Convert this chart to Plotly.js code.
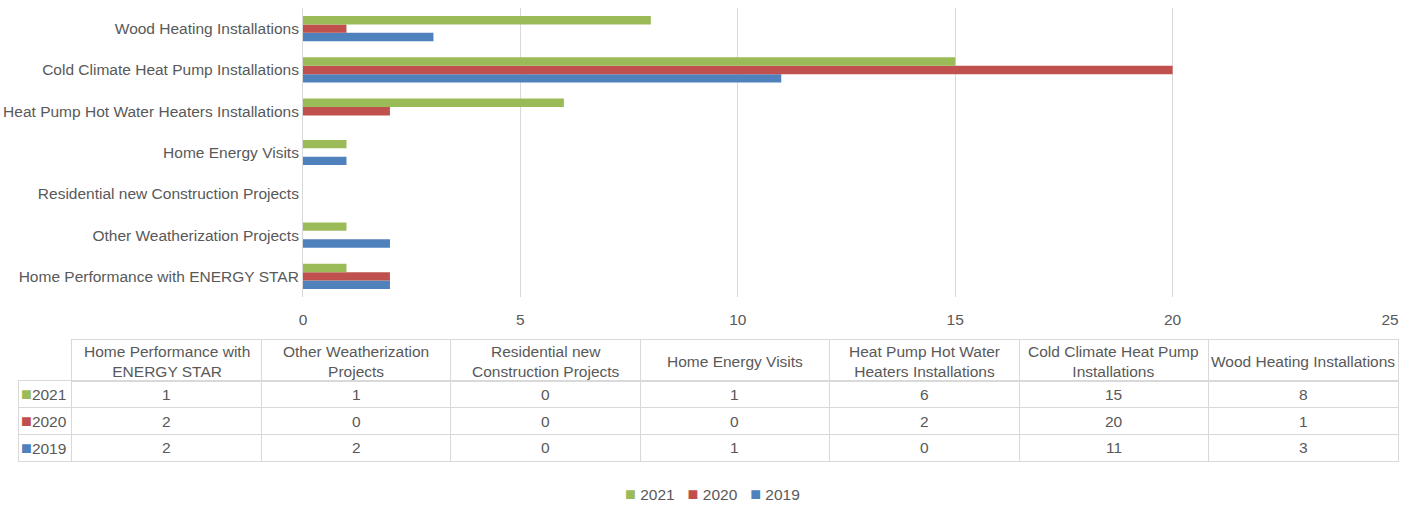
<!DOCTYPE html>
<html>
<head>
<meta charset="utf-8">
<script src="https://cdn.plot.ly/plotly-3.0.1.min.js"></script>
<style>html,body{margin:0;padding:0;background:#fff;}#chart{width:1418px;height:506px;}</style>
</head>
<body>
<div id="chart"></div>
<script>
var categories = ["Home Performance with ENERGY STAR", "Other Weatherization Projects", "Residential new Construction Projects", "Home Energy Visits", "Heat Pump Hot Water Heaters Installations", "Cold Climate Heat Pump Installations", "Wood Heating Installations"];
var tableHeaders = ["Home Performance with<br>ENERGY STAR", "Other Weatherization<br>Projects", "Residential new<br>Construction Projects", "Home Energy Visits", "Heat Pump Hot Water<br>Heaters Installations", "Cold Climate Heat Pump<br>Installations", "Wood Heating Installations"];
var seriesNames = ["2021", "2020", "2019"];
var v2021 = [1, 1, 0, 1, 6, 15, 8];
var v2020 = [2, 0, 0, 0, 2, 20, 1];
var v2019 = [2, 2, 0, 1, 0, 11, 3];
var xTicks = [0, 5, 10, 15, 20, 25];

var colors = {"2021": "#9bbb59", "2020": "#c0504d", "2019": "#4f81bd"};
var seriesValues = {"2021": v2021, "2020": v2020, "2019": v2019};
var FONT = "Liberation Sans, Arial, Helvetica, sans-serif";
var TXT = "#595959";
var GRID = "#d9d9d9";
var FS = 15.5;
var W = 1418, H = 506;
function px(x){return x / W;}
function py(y){return 1 - y / H;}
function swatch(s){ return "<span style='color:" + colors[s] + ";font-size:18px'>■</span>"; }

var traces = [];
["2019", "2020", "2021"].forEach(function(s){
  traces.push({
    type: "bar", orientation: "h", name: s,
    y: categories, x: seriesValues[s],
    marker: {color: colors[s]},
    xaxis: "x", yaxis: "y",
    hoverinfo: "x+name"
  });
});
// invisible anchors for the table subplots
traces.push({type: "scatter", x: [], y: [], xaxis: "x2", yaxis: "y2", showlegend: false, hoverinfo: "skip"});
traces.push({type: "scatter", x: [], y: [], xaxis: "x3", yaxis: "y3", showlegend: false, hoverinfo: "skip"});

var nCols = categories.length;
var firstColW = 53 / 189.5; // label column width relative to a data column
var colBounds = [-firstColW];
for (var c = 0; c <= nCols; c++) colBounds.push(c);
var hdrBounds = [];
for (var c2 = 0; c2 <= nCols; c2++) hdrBounds.push(c2);
var rowBounds = [];
for (var r = 0; r <= seriesNames.length; r++) rowBounds.push(r);

var annotations = [];
// header texts
tableHeaders.forEach(function(h, i){
  annotations.push({
    xref: "x3", yref: "y3", x: i + 0.5, y: 0.5, text: h,
    showarrow: false, align: "center", xanchor: "center", yanchor: "middle",
    yshift: -1,
    font: {family: FONT, size: FS, color: TXT}
  });
});
// body cells
seriesNames.forEach(function(s, ri){
  annotations.push({
    xref: "x2", yref: "y2", x: -firstColW, y: ri + 0.5, xanchor: "left", yanchor: "middle",
    text: swatch(s) + s,
    showarrow: false, xshift: 0,
    font: {family: FONT, size: FS, color: TXT}
  });
  for (var i = 0; i < nCols; i++) {
    annotations.push({
      xref: "x2", yref: "y2", x: i + 0.5, y: ri + 0.5,
      text: String(seriesValues[s][i]),
      showarrow: false, xanchor: "center", yanchor: "middle",
      font: {family: FONT, size: FS, color: TXT}
    });
  }
});
// legend (ordered 2021, 2020, 2019)
annotations.push({
  xref: "paper", yref: "paper", x: px(712), y: py(494), xanchor: "center", yanchor: "middle",
  showarrow: false,
  text: seriesNames.map(function(s){ return swatch(s) + " " + s; }).join("   "),
  font: {family: FONT, size: FS, color: TXT}
});

function tableAxis(domain, range, tickvals) {
  return {
    domain: domain, range: range, tickvals: tickvals,
    showticklabels: false, ticks: "", showgrid: true, gridcolor: GRID, gridwidth: 1,
    zeroline: false, showline: true, mirror: true, linecolor: GRID, linewidth: 1,
    fixedrange: true
  };
}

var layout = {
  width: W, height: H,
  margin: {l: 0, r: 0, t: 0, b: 0},
  paper_bgcolor: "white", plot_bgcolor: "white",
  font: {family: FONT, size: FS, color: TXT},
  barmode: "group",
  bargap: 0.39, bargroupgap: 0,
  showlegend: false,
  xaxis: {
    domain: [px(303), px(1390)],
    range: [0, 25],
    tickvals: xTicks,
    ticktext: xTicks.map(String),
    showgrid: true, gridcolor: GRID, gridwidth: 1,
    zeroline: false, showline: false,
    ticks: "outside", ticklen: 8, tickcolor: "rgba(0,0,0,0)",
    tickfont: {family: FONT, size: FS, color: TXT},
    anchor: "y"
  },
  yaxis: {
    domain: [py(297), py(8)],
    type: "category",
    showgrid: false, zeroline: false,
    showline: true, linecolor: GRID, linewidth: 1,
    ticks: "", ticklabelstandoff: 0,
    tickfont: {family: FONT, size: FS, color: TXT},
    anchor: "x"
  },
  xaxis2: Object.assign(tableAxis([px(19), px(1398)], [-firstColW, nCols], colBounds), {anchor: "y2"}),
  yaxis2: Object.assign(tableAxis([py(461), py(381)], [seriesNames.length, 0], rowBounds), {anchor: "x2"}),
  xaxis3: Object.assign(tableAxis([px(72), px(1398)], [0, nCols], hdrBounds), {anchor: "y3"}),
  yaxis3: Object.assign(tableAxis([py(381), py(340)], [0, 1], [0, 1]), {anchor: "x3"}),
  annotations: annotations
};

Plotly.newPlot("chart", traces, layout, {displayModeBar: false, staticPlot: true});
</script>
</body>
</html>
